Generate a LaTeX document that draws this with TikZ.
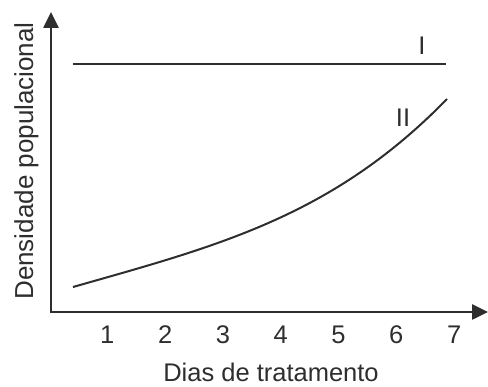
\documentclass[tikz,border=0pt]{standalone}
\usepackage{fontspec}
\setmainfont{Liberation Sans}
\usetikzlibrary{arrows.meta}

\begin{document}
\begin{tikzpicture}[x=1pt,y=-1pt,
    axis_line/.style={line width=2.6pt,draw=black!82,{Triangle[length=16pt,width=15pt]}-{Triangle[length=16pt,width=15pt]}},
    curve_line/.style={line width=2pt,draw=black!82},
    tick_label/.style={text=black!82,font=\fontsize{25.5}{28}\selectfont,inner sep=0pt,anchor=base},
    axis_label/.style={text=black!82,font=\fontsize{25.5}{28}\selectfont,inner sep=0pt,anchor=base},
    curve_label/.style={text=black!82,font=\fontsize{25.5}{28}\selectfont,inner sep=0pt}]
  \useasboundingbox (0,0) rectangle (488,387);
  % axes
  \coordinate (ytop) at (51,12);
  \coordinate (origin) at (51,312);
  \coordinate (xend) at (488,312);
  \draw[axis_line] (ytop) -- (origin) -- (xend);
  \foreach \d in {1,...,7}
    \node[tick_label] (t\d) at (49.5+57.8*\d,344) {\d};
  \node[axis_label] (xlabel) at (271,382) {Dias de tratamento};
  \node[axis_label,rotate=90,font=\fontsize{26}{28}\selectfont] (ylabel) at (33,161) {Densidade populacional};
  % curve I
  \coordinate (a0) at (73,64);
  \coordinate (a1) at (446,64);
  \draw[curve_line] (a0) -- (a1);
  \node[curve_label] (lab1) at (422,46) {I};
  % curve II
  \coordinate (b0) at (73,287);
  \coordinate (b1) at (447,99);
  \draw[curve_line] (b0) .. controls (217,246) and (332,217) .. (b1);
  \node[curve_label] (lab2) at (403,118) {II};
\end{tikzpicture}
\end{document}
